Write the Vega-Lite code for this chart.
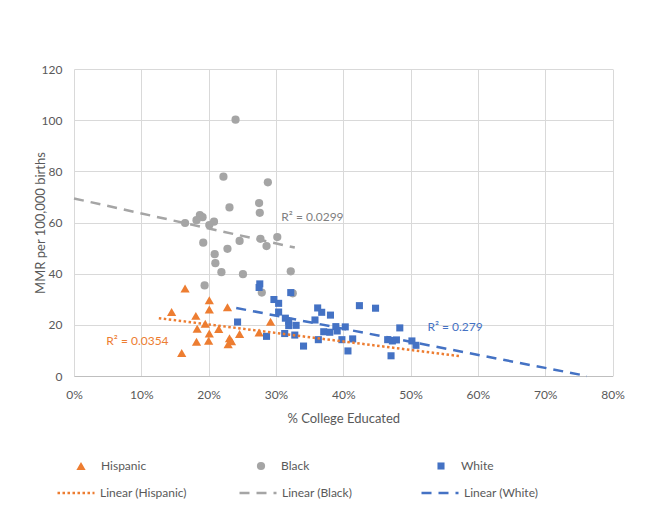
{
  "$schema": "https://vega.github.io/schema/vega-lite/v6.json",
  "autosize": {"type": "none"},
  "padding": {"left": 74, "top": 69, "right": 52.5, "bottom": 129},
  "width": 538.5,
  "height": 307,
  "background": "white",
  "config": {
    "font": "Lato",
    "view": {"stroke": null},
    "axis": {
      "labelFont": "Lato",
      "labelFontSize": 12,
      "labelColor": "#595959",
      "labelFlush": false,
      "titleFont": "Lato",
      "titleFontSize": 13,
      "titleFontWeight": "normal",
      "titleColor": "#595959",
      "gridColor": "#d9d9d9",
      "gridWidth": 1,
      "ticks": false
    },
    "legend": {
      "labelFont": "Lato",
      "labelFontSize": 12,
      "labelColor": "#595959"
    }
  },
  "datasets": {
    "points": [
      {"race": "Hispanic", "pct": 16.5, "mmr": 34.2},
      {"race": "Hispanic", "pct": 20.1, "mmr": 29.6},
      {"race": "Hispanic", "pct": 14.5, "mmr": 25.0},
      {"race": "Hispanic", "pct": 20.1, "mmr": 26.0},
      {"race": "Hispanic", "pct": 22.8, "mmr": 26.9},
      {"race": "Hispanic", "pct": 18.1, "mmr": 23.5},
      {"race": "Hispanic", "pct": 29.2, "mmr": 21.2},
      {"race": "Hispanic", "pct": 19.5, "mmr": 20.4},
      {"race": "Hispanic", "pct": 18.3, "mmr": 18.5},
      {"race": "Hispanic", "pct": 21.5, "mmr": 18.4},
      {"race": "Hispanic", "pct": 20.1, "mmr": 16.6},
      {"race": "Hispanic", "pct": 24.6, "mmr": 16.4},
      {"race": "Hispanic", "pct": 27.5, "mmr": 17.0},
      {"race": "Hispanic", "pct": 18.2, "mmr": 13.4},
      {"race": "Hispanic", "pct": 20.0, "mmr": 13.8},
      {"race": "Hispanic", "pct": 23.1, "mmr": 14.8},
      {"race": "Hispanic", "pct": 23.4, "mmr": 13.6},
      {"race": "Hispanic", "pct": 22.9, "mmr": 12.4},
      {"race": "Hispanic", "pct": 16.0, "mmr": 9.0},
      {"race": "Black", "pct": 24.0, "mmr": 100.2},
      {"race": "Black", "pct": 22.2, "mmr": 77.9},
      {"race": "Black", "pct": 28.8, "mmr": 75.7},
      {"race": "Black", "pct": 27.5, "mmr": 67.6},
      {"race": "Black", "pct": 23.1, "mmr": 65.9},
      {"race": "Black", "pct": 27.6, "mmr": 63.8},
      {"race": "Black", "pct": 18.7, "mmr": 62.9},
      {"race": "Black", "pct": 19.1, "mmr": 62.1},
      {"race": "Black", "pct": 18.2, "mmr": 60.9},
      {"race": "Black", "pct": 16.5, "mmr": 59.8},
      {"race": "Black", "pct": 20.8, "mmr": 60.3},
      {"race": "Black", "pct": 20.1, "mmr": 59.0},
      {"race": "Black", "pct": 30.2, "mmr": 54.3},
      {"race": "Black", "pct": 24.6, "mmr": 52.8},
      {"race": "Black", "pct": 27.7, "mmr": 53.6},
      {"race": "Black", "pct": 19.2, "mmr": 52.1},
      {"race": "Black", "pct": 28.6, "mmr": 50.8},
      {"race": "Black", "pct": 20.9, "mmr": 47.6},
      {"race": "Black", "pct": 22.8, "mmr": 49.7},
      {"race": "Black", "pct": 21.0, "mmr": 44.1},
      {"race": "Black", "pct": 21.9, "mmr": 40.6},
      {"race": "Black", "pct": 25.1, "mmr": 39.8},
      {"race": "Black", "pct": 32.2, "mmr": 40.9},
      {"race": "Black", "pct": 19.4, "mmr": 35.4},
      {"race": "Black", "pct": 27.9, "mmr": 32.6},
      {"race": "Black", "pct": 32.5, "mmr": 32.3},
      {"race": "White", "pct": 27.6, "mmr": 36.0},
      {"race": "White", "pct": 27.5, "mmr": 34.6},
      {"race": "White", "pct": 32.2, "mmr": 32.6},
      {"race": "White", "pct": 29.7, "mmr": 29.9},
      {"race": "White", "pct": 30.4, "mmr": 28.4},
      {"race": "White", "pct": 42.4, "mmr": 27.5},
      {"race": "White", "pct": 44.8, "mmr": 26.5},
      {"race": "White", "pct": 36.2, "mmr": 26.6},
      {"race": "White", "pct": 36.8, "mmr": 24.9},
      {"race": "White", "pct": 30.4, "mmr": 25.0},
      {"race": "White", "pct": 38.1, "mmr": 23.8},
      {"race": "White", "pct": 31.4, "mmr": 22.6},
      {"race": "White", "pct": 35.8, "mmr": 21.9},
      {"race": "White", "pct": 24.3, "mmr": 21.1},
      {"race": "White", "pct": 31.9, "mmr": 21.4},
      {"race": "White", "pct": 31.9, "mmr": 19.7},
      {"race": "White", "pct": 33.0, "mmr": 19.8},
      {"race": "White", "pct": 38.9, "mmr": 19.3},
      {"race": "White", "pct": 40.3, "mmr": 19.2},
      {"race": "White", "pct": 48.4, "mmr": 18.8},
      {"race": "White", "pct": 37.1, "mmr": 17.3},
      {"race": "White", "pct": 38.0, "mmr": 17.1},
      {"race": "White", "pct": 39.1, "mmr": 17.6},
      {"race": "White", "pct": 31.3, "mmr": 16.6},
      {"race": "White", "pct": 32.8, "mmr": 16.0},
      {"race": "White", "pct": 28.6, "mmr": 15.5},
      {"race": "White", "pct": 36.3, "mmr": 14.2},
      {"race": "White", "pct": 39.8, "mmr": 14.2},
      {"race": "White", "pct": 41.4, "mmr": 14.5},
      {"race": "White", "pct": 46.6, "mmr": 14.2},
      {"race": "White", "pct": 47.3, "mmr": 13.7},
      {"race": "White", "pct": 47.9, "mmr": 14.1},
      {"race": "White", "pct": 50.2, "mmr": 13.7},
      {"race": "White", "pct": 50.8, "mmr": 12.0},
      {"race": "White", "pct": 34.1, "mmr": 11.7},
      {"race": "White", "pct": 40.7, "mmr": 9.8},
      {"race": "White", "pct": 47.1, "mmr": 7.9}
    ],
    "trends": [
      {"trend": "Linear (Hispanic)", "pct": 12.6, "mmr": 22.6},
      {"trend": "Linear (Hispanic)", "pct": 57.2, "mmr": 7.8},
      {"trend": "Linear (Black)", "pct": 0, "mmr": 69.4},
      {"trend": "Linear (Black)", "pct": 32.8, "mmr": 50.2},
      {"trend": "Linear (White)", "pct": 24.1, "mmr": 26.6},
      {"trend": "Linear (White)", "pct": 76.2, "mmr": 0}
    ],
    "fits": [
      {"race": "Hispanic", "label": "R² = 0.0354", "pct": 4.8, "mmr": 13.7},
      {"race": "Black", "label": "R² = 0.0299", "pct": 30.8, "mmr": 62.0},
      {"race": "White", "label": "R² = 0.279", "pct": 52.5, "mmr": 19.1}
    ]
  },
  "encoding": {
    "x": {
      "field": "pct",
      "type": "quantitative",
      "scale": {"domain": [0, 80], "nice": false},
      "axis": {
        "title": "% College Educated",
        "values": [0, 10, 20, 30, 40, 50, 60, 70, 80],
        "labelExpr": "datum.value + '%'",
        "labelPadding": 13,
        "titlePadding": 12,
        "domainColor": "#bfbfbf",
        "gridColor": "#d9d9d9"
      }
    },
    "y": {
      "field": "mmr",
      "type": "quantitative",
      "scale": {"domain": [0, 120], "nice": false},
      "axis": {
        "title": "MMR per 100,000 births",
        "values": [0, 20, 40, 60, 80, 100, 120],
        "labelPadding": 12,
        "titlePadding": -6,
        "domain": false
      }
    }
  },
  "layer": [
    {
      "data": {"name": "points"},
      "mark": {"type": "point", "filled": true, "opacity": 1},
      "encoding": {
        "color": {
          "field": "race",
          "type": "nominal",
          "scale": {"domain": ["Hispanic", "Black", "White"], "range": ["#ED7D31", "#A5A5A5", "#4472C4"]},
          "legend": {
            "title": null,
            "orient": "none",
            "legendX": 1,
            "legendY": 391,
            "direction": "horizontal",
            "columns": 3,
            "gridAlign": "all",
            "columnPadding": 108,
            "labelOffset": 14,
            "symbolSize": 64
          }
        },
        "shape": {
          "field": "race",
          "type": "nominal",
          "scale": {"domain": ["Hispanic", "Black", "White"], "range": ["triangle-up", "circle", "square"]}
        },
        "size": {
          "field": "race",
          "type": "nominal",
          "scale": {"domain": ["Hispanic", "Black", "White"], "range": [85, 50, 50]},
          "legend": null
        }
      }
    },
    {
      "data": {"name": "trends"},
      "mark": {"type": "line", "strokeWidth": 2.5},
      "encoding": {
        "stroke": {
          "field": "trend",
          "type": "nominal",
          "scale": {"domain": ["Linear (Hispanic)", "Linear (Black)", "Linear (White)"], "range": ["#ED7D31", "#A5A5A5", "#4472C4"]},
          "legend": {
            "title": null,
            "orient": "none",
            "legendX": -18,
            "legendY": 404,
            "direction": "horizontal",
            "columns": 3,
            "gridAlign": "all",
            "columnPadding": 47,
            "labelOffset": 4,
            "symbolSize": 1369,
            "symbolStrokeWidth": 2.5
          }
        },
        "strokeDash": {
          "field": "trend",
          "type": "nominal",
          "scale": {"domain": ["Linear (Hispanic)", "Linear (Black)", "Linear (White)"], "range": [[2.5, 2.5], [10, 7], [10, 7]]}
        }
      }
    },
    {
      "data": {"name": "fits"},
      "mark": {"type": "text", "align": "left", "baseline": "middle", "fontSize": 12, "font": "Lato"},
      "encoding": {
        "text": {"field": "label"},
        "fill": {
          "field": "race",
          "type": "nominal",
          "scale": {"domain": ["Hispanic", "Black", "White"], "range": ["#ED7D31", "#7F7F7F", "#4472C4"]},
          "legend": null
        }
      }
    }
  ]
}
